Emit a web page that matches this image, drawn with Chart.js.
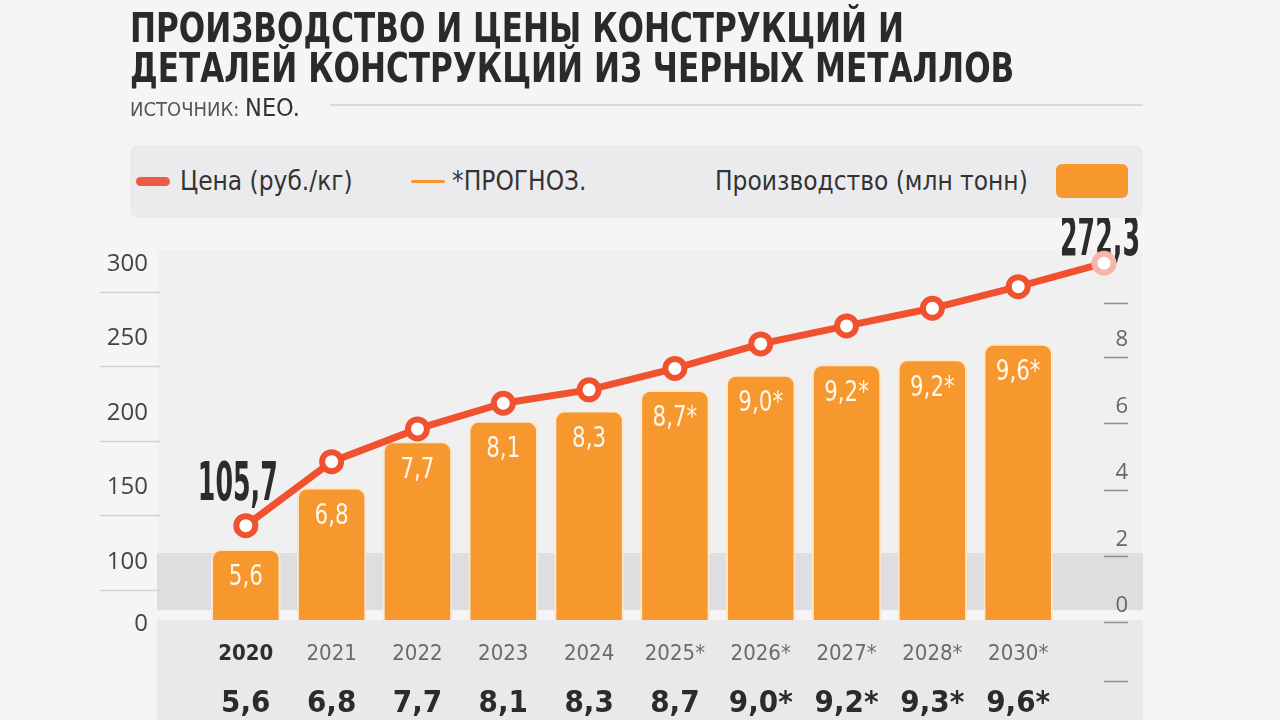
<!DOCTYPE html>
<html><head><meta charset="utf-8">
<script src="https://cdn.jsdelivr.net/npm/chart.js@4.4.1/dist/chart.umd.min.js"></script>
<style>
html,body{margin:0;padding:0;width:1280px;height:720px;overflow:hidden;background:#f6f5f3;}
#wrap{position:relative;width:1280px;height:720px;}
.abs{position:absolute;}
.narrow{font-family:'Liberation Sans Narrow','DejaVu Sans Condensed','Roboto Condensed',Roboto,sans-serif;}
#title{left:130px;top:8px;font-weight:bold;font-size:41px;line-height:40px;color:#2a2a2a;white-space:nowrap;transform:scaleX(0.843);transform-origin:0 0;}
#src{left:130px;top:95px;line-height:26px;white-space:nowrap;color:#555;font-size:20px;}
#src b{color:#333;font-weight:normal;font-size:25px;}
#srcline{left:330px;top:104px;width:813px;height:2px;background:#d9d9d9;}
#legend{left:130px;top:145px;width:1013px;height:73px;background:#ebebed;border-radius:8px;}
.ltxt{font-size:26px;color:#333;line-height:30px;white-space:nowrap;}
canvas{position:absolute;left:0;top:0;}
</style></head>
<body><div id="wrap">
<div class="abs" style="left:157px;top:250px;width:986px;height:303px;background:#f0f0f1;border-radius:6px 6px 0 0"></div>
<div class="abs" style="left:157px;top:553px;width:986px;height:57px;background:#dedee0"></div>
<div class="abs" style="left:157px;top:610px;width:986px;height:10px;background:#f5f5f6"></div>
<div class="abs" style="left:157px;top:620px;width:986px;height:100px;background:#e9e9eb"></div>
<canvas id="c" width="1280" height="720"></canvas>
<div id="title" class="abs narrow">ПРОИЗВОДСТВО И ЦЕНЫ КОНСТРУКЦИЙ И<br>ДЕТАЛЕЙ КОНСТРУКЦИЙ ИЗ ЧЕРНЫХ МЕТАЛЛОВ</div>
<div id="src" class="abs narrow">ИСТОЧНИК: <b>NEO.</b></div>
<div id="srcline" class="abs"></div>
<div id="legend" class="abs"></div>
<div class="abs" style="left:136px;top:177px;width:34px;height:9px;background:#f05a45;border-radius:5px"></div>
<div class="abs narrow ltxt" style="left:180px;top:166px">Цена (руб./кг)</div>
<div class="abs" style="left:411px;top:180px;width:34px;height:3px;background:#f7962f;border-radius:2px"></div>
<div class="abs narrow ltxt" style="left:452px;top:166px">*ПРОГНОЗ.</div>
<div class="abs narrow ltxt" style="left:715px;top:166px">Производство (млн тонн)</div>
<div class="abs" style="left:1056px;top:164px;width:72px;height:34px;background:#f7982f;border-radius:6px"></div>
</div>
<script>
const NARROW = "'Liberation Sans Narrow','DejaVu Sans Condensed','Roboto Condensed',Roboto,sans-serif";
const SANS = "'Open Sans','Noto Sans',sans-serif";

// ---- data ----
const categories = ['', '2020', '2021', '2022', '2023', '2024', '2025*', '2026*', '2027*', '2028*', '2030*', ''];
const production = [null, 5.6, 6.8, 7.7, 8.1, 8.3, 8.7, 9.0, 9.2, 9.3, 9.6, null];
const productionBarLabels = ['', '5,6', '6,8', '7,7', '8,1', '8,3', '8,7*', '9,0*', '9,2*', '9,2*', '9,6*', ''];
const productionRowLabels = ['', '5,6', '6,8', '7,7', '8,1', '8,3', '8,7', '9,0*', '9,2*', '9,3*', '9,6*', ''];
const price = [null, 105.7, 146.3, 167.1, 183.4, 191.9, 205.5, 221.1, 232.5, 243.7, 257.4, 272.3];
const priceLabels = ['', '105,7', '', '', '', '', '', '', '', '', '', '272,3'];
const leftTickValues = [0, 100, 150, 200, 250, 300];
const rightTickValues = [0, 2, 4, 6, 8];
const rightExtraMarks = [-1.77, 9.6];
const LEFT_BREAK = 58.4; // position of the "0" label below the axis break

const labelPlugin = {
  id: 'valueLabels',
  afterDatasetDraw(chart, args) {
    if (args.index !== 1) return;
    const ctx = chart.ctx;
    ctx.save();
    ctx.textAlign = 'center';
    ctx.textBaseline = 'middle';
    ctx.fillStyle = '#fff8ee';
    ctx.font = `normal 28px ${NARROW}`;
    chart.getDatasetMeta(1).data.forEach((bar, i) => {
      const t = productionBarLabels[i];
      if (!t || production[i] == null) return;
      ctx.save();
      ctx.translate(bar.x, bar.y + 29);
      ctx.scale(0.85, 1);
      ctx.fillText(t, 0, 0);
      ctx.restore();
    });
    ctx.fillStyle = '#2b2b2b';
    ctx.font = `bold 54px ${NARROW}`;
    chart.getDatasetMeta(0).data.forEach((pt, i) => {
      const t = priceLabels[i];
      if (!t) return;
      const dx = i === 1 ? -8 : -4;
      const dy = i === 1 ? -40 : -22;
      ctx.save();
      ctx.translate(pt.x + dx, pt.y + dy);
      ctx.scale(0.52, 1);
      ctx.fillText(t, 0, 0);
      ctx.restore();
    });
    ctx.restore();
  }
};

new Chart(document.getElementById('c'), {
  data: {
    labels: categories,
    datasets: [
      {
        type: 'line', label: 'Цена (руб./кг)', data: price, yAxisID: 'yP', xAxisID: 'x',
        borderColor: '#f0522f', borderWidth: 7, tension: 0,
        pointRadius: 9.5, pointBorderWidth: 6, pointBackgroundColor: '#ffffff',
        pointBorderColor: (c) => c.dataIndex === price.length - 1 ? '#f7b6a9' : '#f0522f',
        order: 0
      },
      {
        type: 'bar', label: 'Производство (млн тонн)', data: production, yAxisID: 'yB', xAxisID: 'x',
        backgroundColor: '#f7982f', borderColor: '#fbe8cf', borderWidth: 2,
        borderRadius: 10, borderSkipped: false,
        barPercentage: 0.9, categoryPercentage: 0.9, order: 1
      }
    ]
  },
  options: {
    responsive: false, animation: false,
    layout: { padding: { top: 250, left: 0, right: 152, bottom: 0 } },
    plugins: { legend: { display: false }, tooltip: { enabled: false } },
    scales: {
      x: {
        type: 'category', position: 'bottom', offset: false, weight: 0,
        grid: { display: false }, border: { display: false },
        ticks: {
          autoSkip: false, maxRotation: 0, padding: 13,
          font: (c) => ({ family: NARROW, size: 22, weight: c.index === 1 ? 'bold' : 'normal' }),
          color: (c) => c.index === 1 ? '#2e2e2e' : '#6b6b6b'
        },
        afterFit: (s) => { s.height = 52; }
      },
      x2: {
        type: 'category', position: 'bottom', offset: false, weight: 1, labels: productionRowLabels,
        grid: { display: false }, border: { display: false },
        ticks: { autoSkip: false, maxRotation: 0, padding: 5, color: '#2b2b2b',
          font: { family: NARROW, size: 31, weight: 'bold' } },
        afterFit: (s) => { s.height = 48; }
      },
      yP: { display: false, min: 45.8, max: 280.7 },
      yB: { display: false, min: 4.216, max: 11.43 },
      yL: {
        position: 'left', min: 79.9, max: 328.2,
        border: { display: false },
        grid: { drawOnChartArea: false, drawTicks: true, tickLength: 60, tickWidth: 1.5,
          tickColor: (c) => (c.tick && c.tick.value === LEFT_BREAK) ? 'rgba(0,0,0,0)' : '#d2d2d2' },
        afterBuildTicks: (s) => { s.ticks = leftTickValues.map(v => ({ value: v === 0 ? LEFT_BREAK : v })); },
        ticks: { autoSkip: false, padding: -48, labelOffset: -28, color: '#444',
          font: { family: SANS, size: 24 },
          callback: (v) => v === LEFT_BREAK ? '0' : String(v) },
        afterFit: (s) => { s.width = 160; }
      },
      yR: {
        position: 'right', min: 0.09, max: 11.22,
        border: { display: false },
        grid: { drawOnChartArea: false, drawTicks: true, tickLength: 24, tickWidth: 1.5, tickColor: '#8f8f8f' },
        afterBuildTicks: (s) => { s.ticks = rightExtraMarks.concat(rightTickValues).sort((a, b) => a - b).map(v => ({ value: v })); },
        ticks: { autoSkip: false, padding: 0, crossAlign: 'far', labelOffset: -17, color: '#666',
          font: { family: SANS, size: 22 },
          callback: (v) => rightTickValues.includes(v) ? String(v) : '' },
        afterFit: (s) => { s.width = 24; }
      }
    }
  },
  plugins: [labelPlugin]
});
</script>
</body></html>
